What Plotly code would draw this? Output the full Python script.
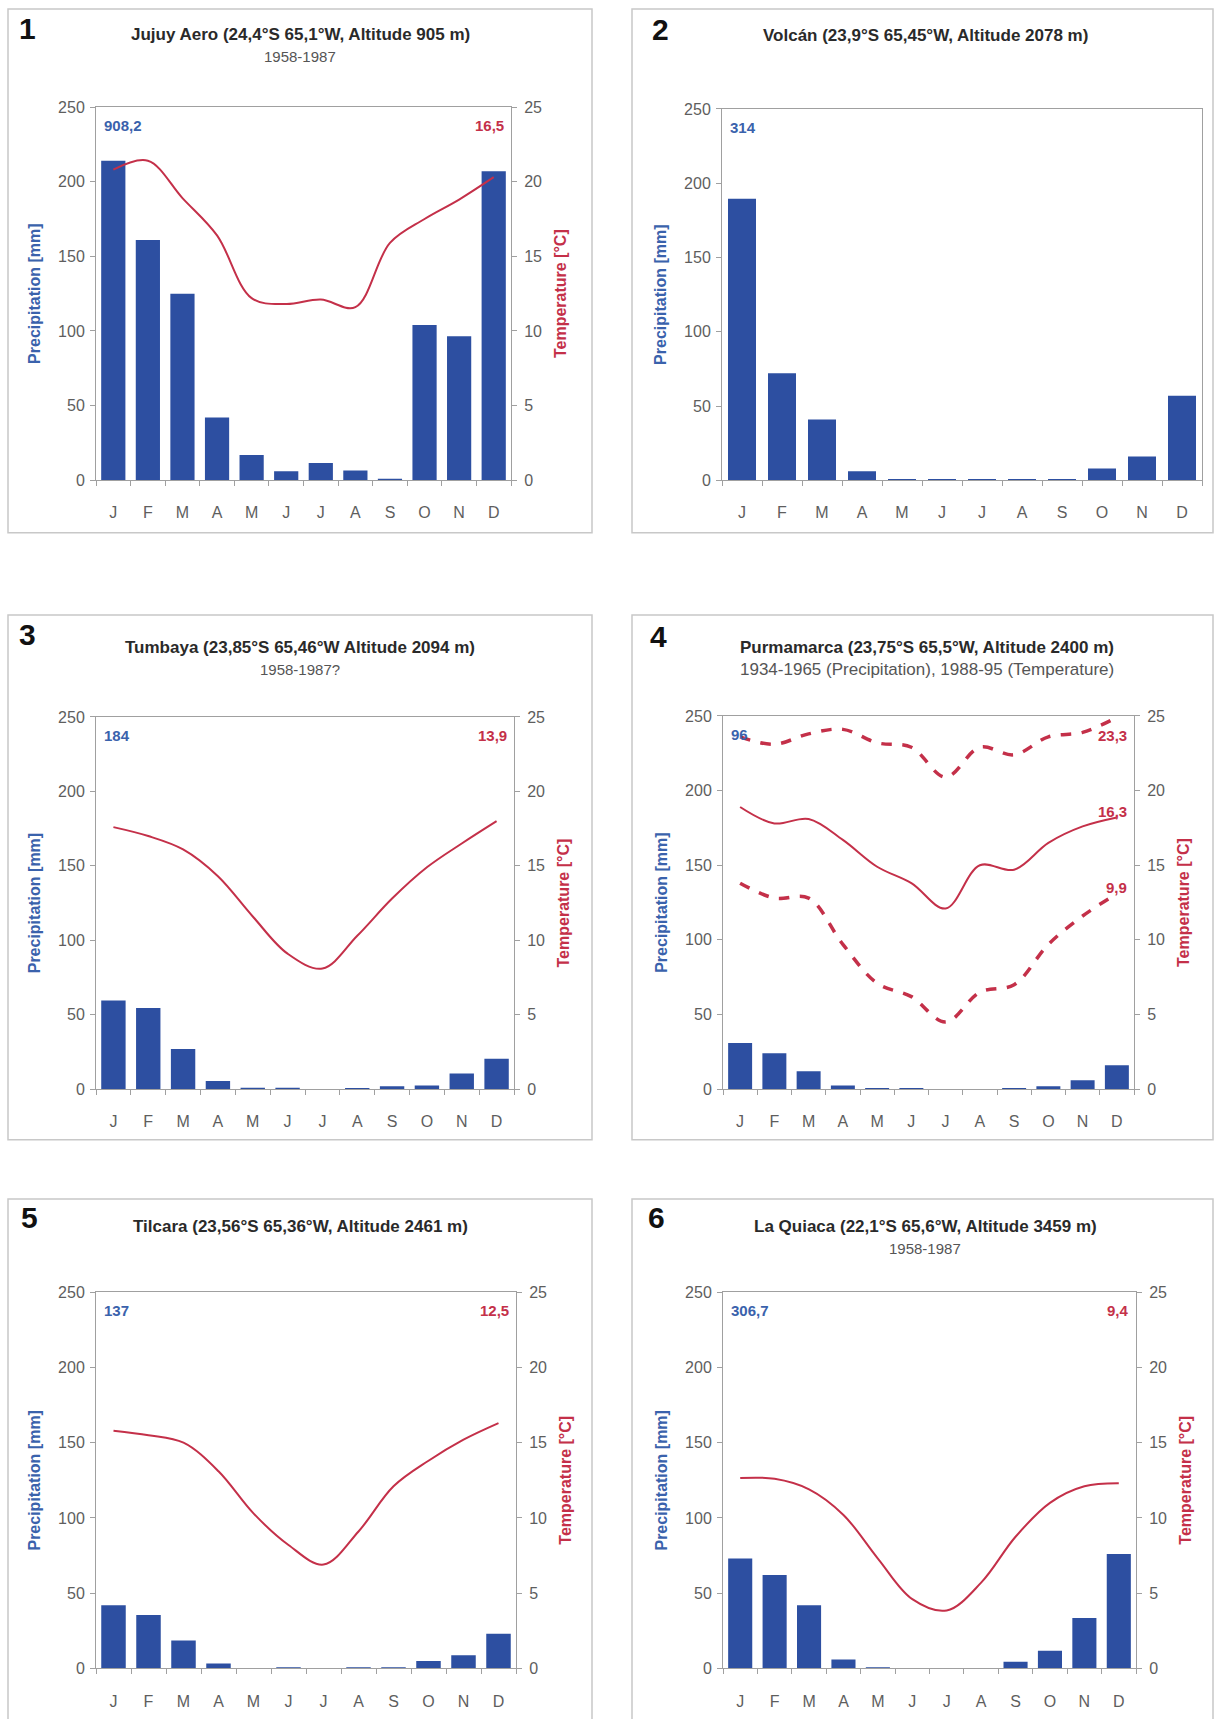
import plotly.graph_objects as go

W, H = 1218, 1719

months = ["J", "F", "M", "A", "M", "J", "J", "A", "S", "O", "N", "D"]
xidx = list(range(len(months)))

# ---- data ----
titles = [
    "Jujuy Aero (24,4°S 65,1°W, Altitude 905 m)",
    "Volcán (23,9°S 65,45°W, Altitude 2078 m)",
    "Tumbaya (23,85°S 65,46°W Altitude 2094 m)",
    "Purmamarca (23,75°S 65,5°W, Altitude 2400 m)",
    "Tilcara (23,56°S 65,36°W, Altitude 2461 m)",
    "La Quiaca (22,1°S 65,6°W, Altitude 3459 m)",
]
subtitles = ["1958-1987", "", "1958-1987?",
             "1934-1965 (Precipitation), 1988-95 (Temperature)", "", "1958-1987"]
panel_numbers = ["1", "2", "3", "4", "5", "6"]
precip_totals = ["908,2", "314", "184", "96", "137", "306,7"]
temp_means = ["16,5", "", "13,9", "", "12,5", "9,4"]

precip_jujuy = [214, 161, 125, 42, 17, 6, 11.5, 6.5, 1, 104, 96.5, 207]
temp_jujuy = [20.8, 21.4, 18.9, 16.4, 12.2, 11.8, 12.1, 11.6, 15.9, 17.5, 18.8, 20.3]

precip_volcan = [189.5, 72, 41, 6, 0.7, 0.7, 0.7, 0.7, 0.7, 8, 16, 57]

precip_tumbaya = [59.5, 54.5, 27, 5.5, 1, 1, 0, 0.8, 2, 2.5, 10.5, 20.5]
temp_tumbaya = [17.6, 17.0, 16.1, 14.3, 11.6, 9.1, 8.1, 10.3, 12.8, 14.9, 16.5, 18.0]

precip_purmamarca = [31, 24, 12, 2.4, 0.5, 0.5, 0, 0, 0.5, 2, 6, 16]
tmean_purmamarca = [18.9, 17.8, 18.1, 16.7, 14.9, 13.8, 12.1, 15.0, 14.7, 16.5, 17.6, 18.2]
tmax_purmamarca = [23.6, 23.1, 23.8, 24.1, 23.2, 22.9, 20.9, 22.9, 22.4, 23.6, 23.9, 24.9]
tmin_purmamarca = [13.8, 12.8, 12.8, 9.7, 7.1, 6.2, 4.5, 6.5, 7.0, 9.7, 11.6, 13.1]
purmamarca_labels = ["23,3", "16,3", "9,9"]

precip_tilcara = [42, 35.5, 18.5, 3.2, 0, 0.5, 0, 0.5, 0.5, 5, 8.8, 23]
temp_tilcara = [15.8, 15.5, 15.0, 13.1, 10.3, 8.2, 6.9, 9.1, 12.1, 13.8, 15.2, 16.3]

precip_quiaca = [73, 62, 42, 6, 0.5, 0, 0, 0, 4.5, 11.7, 33.5, 76]
temp_quiaca = [12.65, 12.6, 11.9, 10.2, 7.3, 4.6, 3.85, 5.7, 8.75, 11.0, 12.1, 12.3]

# ---- styles ----
BAR = "#2D4FA1"
RED = "#C43049"
BLUE_TXT = "#3A62AC"
GRAY_TXT = "#5E5E5E"
AX = "#A0A0A0"
FONT = "Liberation Sans, Arial, sans-serif"


def xd(a, b):
    return [a / W, b / W]


def yd(top, bottom):
    return [1 - bottom / H, 1 - top / H]


# plot areas (pixels): x0, x1, ytop, ybottom
areas = [
    (96, 511, 100, 477),
    (722, 1202, 102, 477),
    (96, 514, 716, 1092),
    (723, 1134, 715, 1092),
    (96, 516, 1297, 1677),
    (723, 1136, 1297, 1677),
]
# outer boxes
boxes = [
    (8, 592, 1, 530), (632, 1213, 1, 530),
    (8, 592, 613, 1143), (632, 1213, 613, 1143),
    (8, 592, 1203, 1740), (632, 1213, 1203, 1740),
]
title_pos = [(300, 27), (925, 28), (300, 646), (927, 646), (300, 1231), (925, 1231)]
subtitle_size = [15, 15, 15, 17, 15, 15]
number_pos = [(27, 21), (660, 22), (27, 633), (658, 635), (29, 1222), (656, 1222)]

precip_series = [precip_jujuy, precip_volcan, precip_tumbaya,
                 precip_purmamarca, precip_tilcara, precip_quiaca]
temp_series = [temp_jujuy, None, temp_tumbaya, tmean_purmamarca, temp_tilcara, temp_quiaca]
has_right = [True, False, True, True, True, True]

fig = go.Figure()
layout = dict(
    width=W, height=H, margin=dict(l=0, r=0, t=0, b=0),
    paper_bgcolor="white", plot_bgcolor="white", showlegend=False,
    font=dict(family=FONT, color=GRAY_TXT, size=16),
    bargap=0.3,
)
annotations = []
shapes = []

for i in range(6):
    n = i + 1
    xa = "x" if n == 1 else f"x{n}"
    ya_p = f"y{2 * i + 1}" if i > 0 else "y"
    ya_t = f"y{2 * i + 2}"
    x0, x1, yt, yb = areas[i]

    fig.add_trace(go.Bar(x=xidx, y=precip_series[i], marker=dict(color=BAR, line=dict(width=0)),
                         xaxis=xa, yaxis=ya_p, name="Precipitation"))
    if temp_series[i] is not None:
        fig.add_trace(go.Scatter(x=xidx, y=temp_series[i], mode="lines",
                                 line=dict(color=RED, width=2, shape="spline"),
                                 xaxis=xa, yaxis=ya_t, name="Temperature"))
    if i == 3:
        for s in (tmax_purmamarca, tmin_purmamarca):
            fig.add_trace(go.Scatter(x=xidx, y=s, mode="lines",
                                     line=dict(color=RED, width=3.5, dash="dash", shape="spline"),
                                     xaxis=xa, yaxis=ya_t, name="Temperature"))

    xkey = "xaxis" if n == 1 else f"xaxis{n}"
    ykey_p = "yaxis" if i == 0 else f"yaxis{2 * i + 1}"
    ykey_t = f"yaxis{2 * i + 2}"

    layout[xkey] = dict(
        domain=xd(x0, x1), anchor=ya_p,
        range=[-0.5, 11.5], tickmode="array", tickvals=xidx, ticktext=months,
        ticks="outside", ticklen=18, tickcolor="rgba(0,0,0,0)",
        minor=dict(tickmode="linear", tick0=-0.5, dtick=1, ticks="outside",
                   ticklen=5, tickcolor=AX),
        showline=True, linecolor=AX, linewidth=1, mirror=True,
        showgrid=False, zeroline=False, fixedrange=True,
        tickfont=dict(size=16, color=GRAY_TXT),
    )
    layout[ykey_p] = dict(
        domain=yd(yt, yb), anchor=xa, range=[0, 250], dtick=50, tick0=0,
        ticks="outside", ticklen=5, tickcolor=AX, ticklabelstandoff=2,
        showline=True, linecolor=AX, linewidth=1, mirror=not has_right[i],
        showgrid=False, zeroline=False,
        tickfont=dict(size=16, color=GRAY_TXT),
        title=dict(text="<b>Precipitation [mm]</b>", font=dict(size=16, color=BLUE_TXT),
                   standoff=13),
    )
    if has_right[i]:
        layout[ykey_t] = dict(
            domain=yd(yt, yb), anchor=xa, overlaying=ya_p, side="right",
            range=[0, 25], dtick=5, tick0=0,
            ticks="outside", ticklen=5, tickcolor=AX, ticklabelstandoff=4,
            showline=True, linecolor=AX, linewidth=1,
            showgrid=False, zeroline=False,
            tickfont=dict(size=16, color=GRAY_TXT),
            title=dict(text="<b>Temperature [°C]</b>", font=dict(size=16, color=RED),
                       standoff=13),
        )

    # outer box
    bx0, bx1, byt, byb = boxes[i]
    shapes.append(dict(type="rect", xref="paper", yref="paper",
                       x0=bx0 / W, x1=bx1 / W, y0=1 - byb / H, y1=1 - byt / H,
                       line=dict(color="#C8C8C8", width=1.5), fillcolor="rgba(0,0,0,0)",
                       layer="below"))
    # panel number
    nx, ny = number_pos[i]
    annotations.append(dict(text=f"<b>{panel_numbers[i]}</b>", xref="paper", yref="paper",
                            x=nx / W, y=1 - ny / H, xanchor="center", yanchor="middle",
                            showarrow=False, font=dict(size=30, color="#111111")))
    # title
    tx, ty = title_pos[i]
    annotations.append(dict(text=f"<b>{titles[i]}</b>", xref="paper", yref="paper",
                            x=tx / W, y=1 - ty / H, xanchor="center", yanchor="middle",
                            showarrow=False, font=dict(size=17, color="#2A2A2A")))
    if subtitles[i]:
        annotations.append(dict(text=subtitles[i], xref="paper", yref="paper",
                                x=tx / W, y=1 - (ty + 22) / H, xanchor="center",
                                yanchor="middle", showarrow=False,
                                font=dict(size=subtitle_size[i], color="#555555")))
    # totals
    annotations.append(dict(text=f"<b>{precip_totals[i]}</b>", xref=f"{xa} domain",
                            yref=f"{ya_p} domain", x=0, y=1, xanchor="left", yanchor="top",
                            xshift=6, yshift=-8, showarrow=False,
                            font=dict(size=15, color=BLUE_TXT)))
    if temp_means[i]:
        annotations.append(dict(text=f"<b>{temp_means[i]}</b>", xref=f"{xa} domain",
                                yref=f"{ya_p} domain", x=1, y=1, xanchor="right",
                                yanchor="top", xshift=-5, yshift=-8, showarrow=False,
                                font=dict(size=15, color=RED)))
    if i == 3:
        for lab, lev in zip(purmamarca_labels, [23.7, 18.6, 13.5]):
            annotations.append(dict(text=f"<b>{lab}</b>", xref=f"{xa} domain", yref=ya_t,
                                    x=1, y=lev, xanchor="right", yanchor="middle",
                                    xshift=-5, showarrow=False,
                                    font=dict(size=15, color=RED)))

layout["annotations"] = annotations
layout["shapes"] = shapes
fig.update_layout(**layout)
fig.write_html("out.html", config={"displayModeBar": False},
               post_script="document.body.style.margin='0';document.body.style.overflow='hidden';")
